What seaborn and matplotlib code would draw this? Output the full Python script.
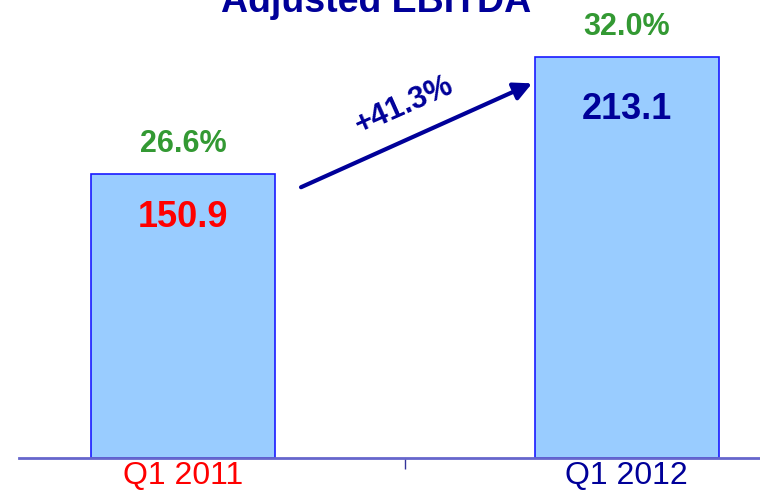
import matplotlib
matplotlib.use("Agg")
import matplotlib.pyplot as plt
from matplotlib import font_manager
import seaborn as sns
import pandas as pd

# Quarterly adjusted EBITDA and margin
periods = ["Q1 2011", "Q1 2012"]
ebitda = [150.9, 213.1]
margins = ["26.6%", "32.0%"]
growth_label = "+41.3%"

value_colors = ["#FF0000", "#000099"]
period_colors = ["#FF0000", "#000099"]
margin_color = "#339933"
navy = "#000099"

sns.set_theme(style="white")
names = {f.name for f in font_manager.fontManager.ttflist}
narrow = "Liberation Sans Narrow" if "Liberation Sans Narrow" in names else "Liberation Sans"
plt.rcParams["font.family"] = [narrow, "DejaVu Sans"]

df = pd.DataFrame({"period": periods, "ebitda": ebitda})

fig = plt.figure(figsize=(7.6, 4.93), dpi=100)
ax = fig.add_axes([19 / 760, 35 / 493, 741 / 760, 458 / 493])

sns.barplot(data=df, x="period", y="ebitda", ax=ax, width=0.415,
            color="#99CCFF", edgecolor="#1A1AFF", linewidth=1.2, saturation=1)

ax.set_xlim(-0.370, 1.301)
ax.set_ylim(0, 243.4)
ax.set_xlabel("")
ax.set_ylabel("")
ax.set_yticks([])
for side in ("top", "right", "left"):
    ax.spines[side].set_visible(False)
ax.spines["bottom"].set_color("#6666CC")
ax.spines["bottom"].set_linewidth(2)

# category labels, no ticks under the bars; one divider tick between them
ax.set_xticks(range(len(periods)))
ax.set_xticklabels(periods)
ax.tick_params(axis="x", which="major", bottom=True, length=0, pad=2, labelsize=23)
for lbl, c in zip(ax.get_xticklabels(), period_colors):
    lbl.set_color(c)
ax.set_xticks([0.5], minor=True)
ax.tick_params(axis="x", which="minor", bottom=True, length=8, width=1,
               color="#333399", direction="out")

# values inside the bars and margins above
value_offsets = [-43, -52]
for i, (v, m) in enumerate(zip(ebitda, margins)):
    ax.annotate(f"{v:.1f}", (i, v), xytext=(0, value_offsets[i]), textcoords="offset pixels",
                ha="center", va="center", fontsize=26, fontweight="bold", color=value_colors[i])
    ax.annotate(m, (i, v), xytext=(0, 30), textcoords="offset pixels",
                ha="center", va="center", fontsize=22, fontweight="bold", color=margin_color)

# growth arrow between the bars
x0, y0 = 0.266, ebitda[0] - 7
x1, y1 = 0.787, ebitda[1] - 14
ax.annotate("", xy=(x1, y1), xytext=(x0, y0),
            arrowprops=dict(arrowstyle="-|>,head_length=0.9,head_width=0.45",
                            color=navy, lw=3, shrinkA=0, shrinkB=0))
ax.annotate(growth_label, ((x0 + x1) / 2, (y0 + y1) / 2), xytext=(-12, 30),
            textcoords="offset pixels", ha="center", va="center", rotation=24,
            fontsize=22, fontweight="bold", color=navy, rotation_mode="anchor")

fig.text(376 / 760, 1 - 12 / 493, "Adjusted EBITDA", ha="center", va="baseline",
         fontsize=27, fontweight="bold", color=navy)

fig.savefig("out.png", dpi=100)
